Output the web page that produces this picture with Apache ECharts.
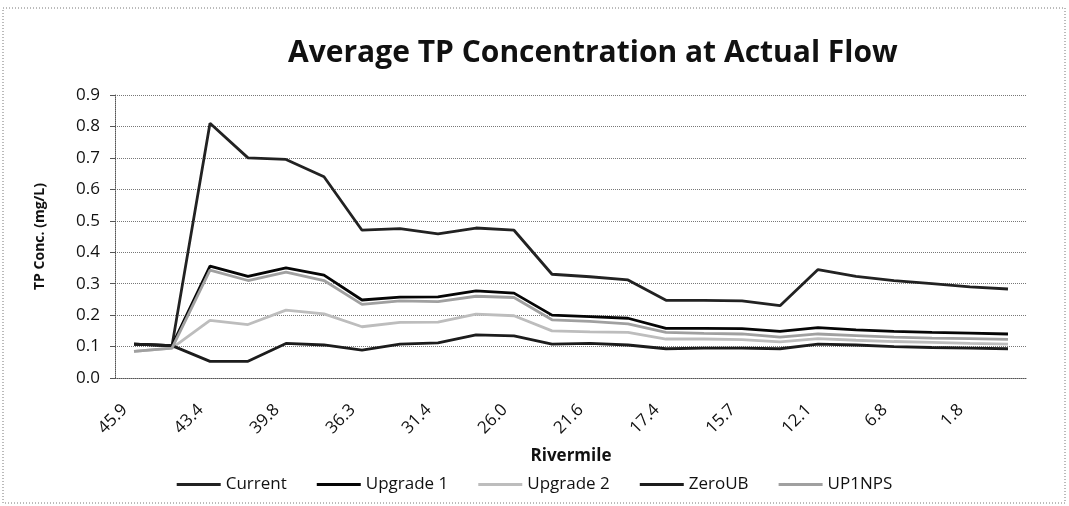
<!DOCTYPE html>
<html>
<head>
<meta charset="utf-8">
<script src="https://cdn.jsdelivr.net/npm/echarts@6/dist/echarts.min.js"></script>
<style>
  html, body { margin: 0; padding: 0; background: #fff; }
  #Chart { width: 1069px; height: 506px; }
</style>
</head>
<body>
<div id="Chart"></div>
<script>
  // rivermile categories (only every other one is labelled on the axis)
  var rivermile = ['45.9', '44.6', '43.4', '41.3', '39.8', '38.0', '36.3', '33.9',
    '31.4', '28.7', '26.0', '23.6', '21.6', '19.4', '17.4', '16.5',
    '15.7', '14.0', '12.1', '9.4', '6.8', '4.2', '1.8', '0.3']

  var current = [0.108, 0.103, 0.81, 0.70, 0.695, 0.64, 0.47, 0.475, 0.458, 0.477, 0.47, 0.33,
    0.322, 0.312, 0.247, 0.247, 0.245, 0.23, 0.345, 0.323, 0.31, 0.30, 0.29, 0.283]
  var upgrade1 = [0.108, 0.103, 0.356, 0.323, 0.35, 0.327, 0.248, 0.257, 0.258, 0.277, 0.27, 0.2,
    0.195, 0.19, 0.158, 0.158, 0.157, 0.148, 0.16, 0.153, 0.148, 0.145, 0.143, 0.14]
  var upgrade2 = [0.085, 0.095, 0.183, 0.17, 0.216, 0.204, 0.163, 0.177, 0.178, 0.203, 0.198, 0.15,
    0.147, 0.145, 0.124, 0.124, 0.122, 0.115, 0.125, 0.12, 0.116, 0.113, 0.11, 0.108]
  var zeroUB = [0.108, 0.103, 0.053, 0.053, 0.11, 0.105, 0.089, 0.108, 0.112, 0.137, 0.134, 0.108,
    0.11, 0.105, 0.093, 0.095, 0.095, 0.093, 0.108, 0.105, 0.1, 0.097, 0.095, 0.093]
  var up1nps = [0.085, 0.095, 0.343, 0.31, 0.337, 0.31, 0.234, 0.245, 0.243, 0.26, 0.256, 0.185,
    0.18, 0.172, 0.145, 0.142, 0.14, 0.13, 0.14, 0.135, 0.13, 0.127, 0.125, 0.123]

  var font = '"Open Sans", "DejaVu Sans", sans-serif'

  function line(name, data, color) {
    return {
      name: name,
      type: 'line',
      data: data,
      symbol: 'none',
      lineStyle: { color: color, width: 2.8 },
      itemStyle: { color: color }
    }
  }

  var Chart = echarts.init(document.getElementById('Chart'))
  Chart.setOption({
    animation: false,
    title: {
      text: 'Average TP Concentration at Actual Flow',
      left: 283,
      top: 33,
      textStyle: { fontFamily: font, fontSize: 30, fontWeight: 'bold', color: '#111' }
    },
    graphic: [{
      type: 'rect',
      shape: { x: 3, y: 8, width: 1062, height: 495 },
      style: { fill: 'none', stroke: '#777', lineWidth: 1, lineDash: [1, 2] },
      silent: true
    }],
    legend: {
      bottom: 8,
      left: 'center',
      icon: 'rect',
      itemWidth: 44,
      itemHeight: 3,
      itemGap: 30,
      textStyle: { fontFamily: font, fontSize: 17, color: '#111' },
      data: ['Current', 'Upgrade 1', 'Upgrade 2', 'ZeroUB', 'UP1NPS']
    },
    grid: { left: 115, right: 42, top: 95, bottom: 128 },
    xAxis: {
      type: 'category',
      data: rivermile,
      boundaryGap: true,
      name: 'Rivermile',
      nameLocation: 'middle',
      nameGap: 70,
      nameTextStyle: { fontFamily: font, fontSize: 17, fontWeight: 'bold', color: '#111' },
      axisLine: { lineStyle: { color: '#555', type: 'dotted' } },
      axisTick: { interval: 0, length: 5, lineStyle: { color: '#555' } },
      axisLabel: {
        interval: 1, rotate: 45, margin: 20, padding: [0, 13, 0, 0],
        fontFamily: font, fontSize: 17, color: '#111'
      }
    },
    yAxis: {
      type: 'value',
      min: 0,
      max: 0.9,
      interval: 0.1,
      name: 'TP Conc. (mg/L)',
      nameLocation: 'middle',
      nameGap: 68,
      nameTextStyle: { fontFamily: font, fontSize: 14, fontWeight: 'bold', color: '#111' },
      axisLine: { show: true, lineStyle: { color: '#555', type: 'dotted' } },
      axisTick: { show: true, length: 5, lineStyle: { color: '#555' } },
      axisLabel: {
        margin: 15, fontFamily: font, fontSize: 17, color: '#111',
        formatter: function (v) { return v.toFixed(1) }
      },
      splitLine: { lineStyle: { color: '#777', type: 'dotted', width: 1 } }
    },
    series: [
      line('Current', current, '#222222'),
      line('Upgrade 1', upgrade1, '#050505'),
      line('Upgrade 2', upgrade2, '#bdbdbd'),
      line('ZeroUB', zeroUB, '#1c1c1c'),
      line('UP1NPS', up1nps, '#a0a0a0')
    ]
  })
</script>
</body>
</html>
